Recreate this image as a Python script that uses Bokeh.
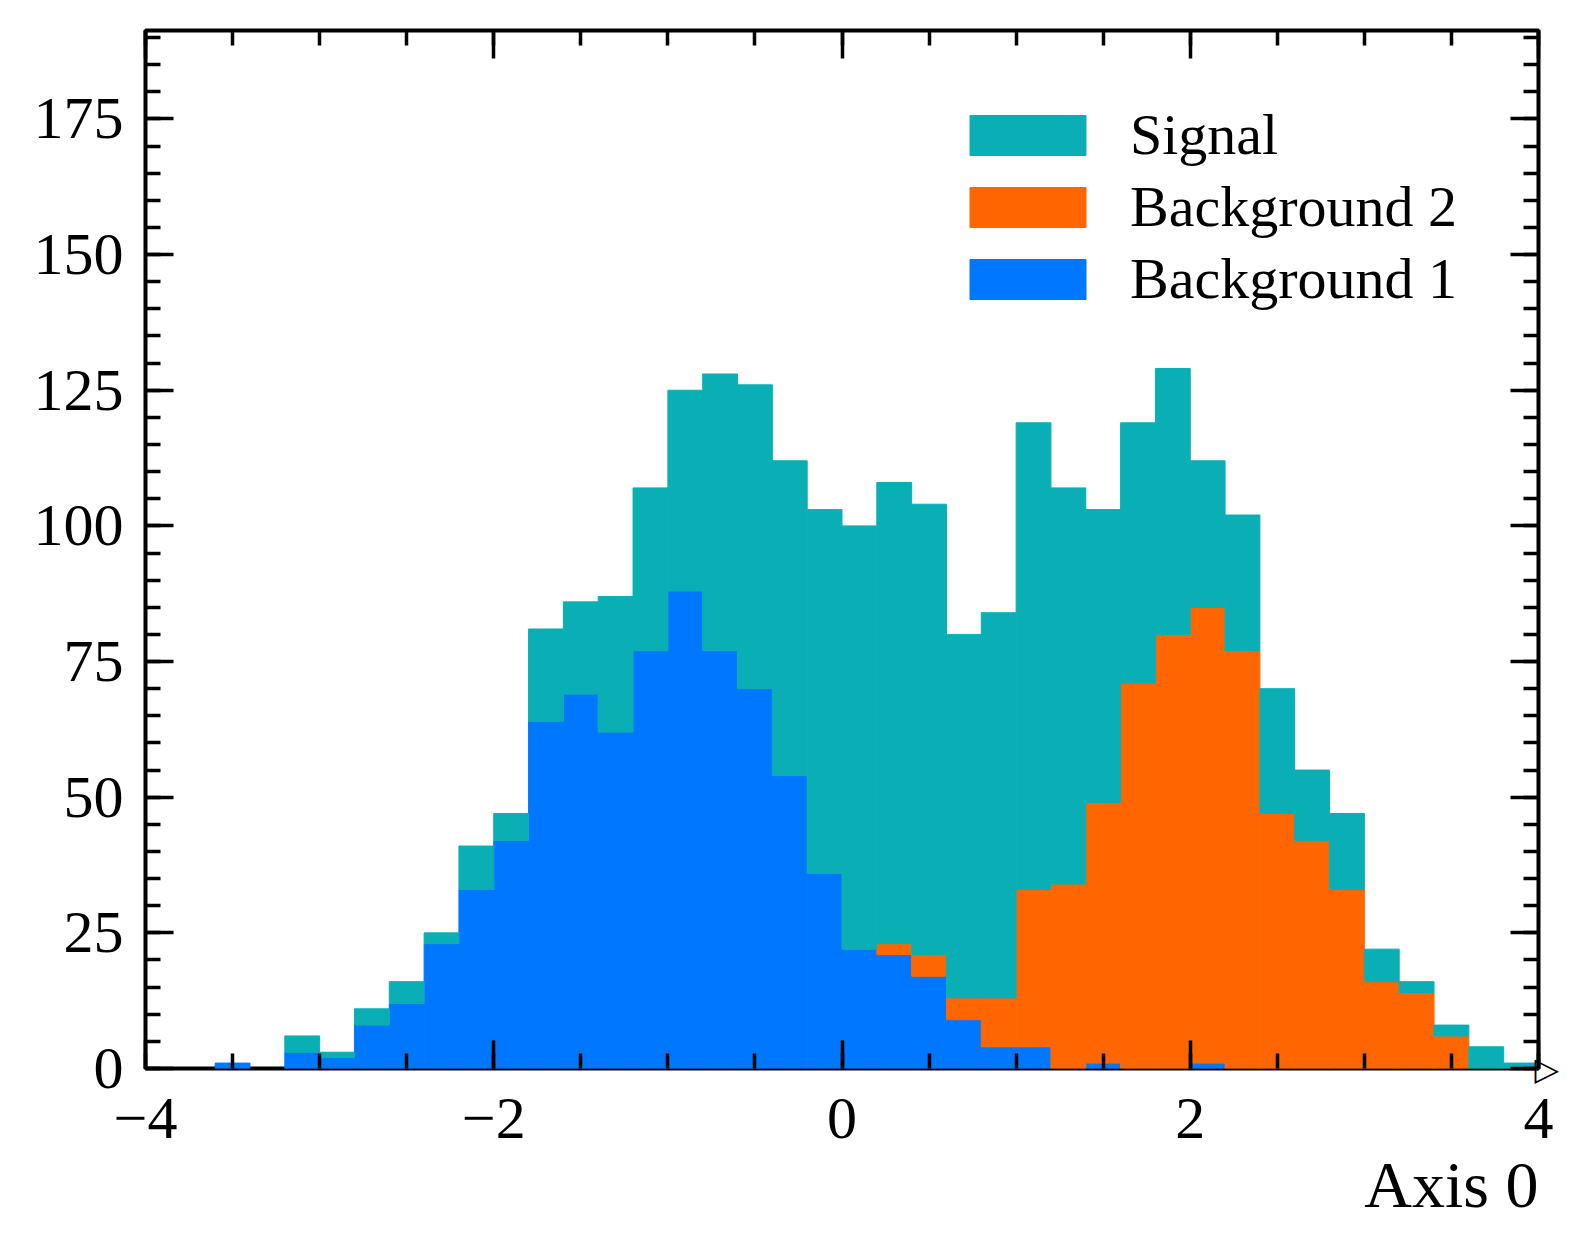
import numpy as np
from bokeh.plotting import figure
from bokeh.models import (Range1d, LinearAxis, SingleIntervalTicker, Legend, LegendItem,
                          CustomLabelingPolicy, Title)
from bokeh.embed import file_html
from bokeh.resources import INLINE

# ---------------- data ----------------
bin_low, bin_high, n_bins = -4.0, 4.0, 40
background1 = [0, 0, 1, 0, 3, 2, 8, 12, 23, 33,
               42, 64, 69, 62, 77, 88, 77, 70, 54, 36,
               22, 21, 17, 9, 4, 4, 0, 1, 0, 0,
               1, 0, 0, 0, 0, 0, 0, 0, 0, 0]
background2 = [0, 0, 0, 0, 0, 0, 0, 0, 0, 0,
               0, 0, 0, 0, 0, 0, 0, 0, 0, 0,
               0, 2, 4, 4, 9, 29, 34, 48, 71, 80,
               84, 77, 47, 42, 33, 16, 14, 6, 0, 0]
signal = [0, 0, 0, 0, 3, 1, 3, 4, 2, 8,
          5, 17, 17, 25, 30, 37, 51, 56, 58, 67,
          78, 85, 83, 67, 71, 86, 73, 54, 48, 49,
          27, 25, 23, 13, 14, 6, 2, 2, 4, 1]
series_names = ["Background 1", "Background 2", "Signal"]
series_colors = ["#0077ff", "#ff6600", "#0aafb6"]
x_tick_labels = {-4: "\u22124", -2: "\u22122", 0: "0", 2: "2", 4: "4"}
y_major_ticks = [0, 25, 50, 75, 100, 125, 150, 175]
x_label = "Axis 0"
y_top = 191.3

FONT = "Liberation Serif"

edges = np.linspace(bin_low, bin_high, n_bins + 1)

p = figure(width=1568, height=1241, output_backend="svg", toolbar_location=None,
           x_range=Range1d(bin_low, bin_high), y_range=Range1d(0, y_top),
           min_border_left=145, min_border_right=30, min_border_top=30,
           min_border_bottom=173)
p.grid.visible = False
p.outline_line_color = "black"
p.outline_line_width = 4
p.background_fill_color = "white"
p.border_fill_color = "white"

# ---------------- stacked histogram ----------------
stack = [np.array(background1, float), np.array(background2, float), np.array(signal, float)]
base = np.zeros(n_bins)
renderers = {}
for vals, name, col in zip(stack, series_names, series_colors):
    top = base + vals
    m = vals > 0
    r = p.quad(left=edges[:-1][m], right=edges[1:][m], bottom=base[m], top=top[m],
               fill_color=col, line_color=col, line_width=1)
    renderers[name] = r
    base = top

# ---------------- axes ----------------
xb = p.below[0]
yl = p.left[0]
xb.ticker = SingleIntervalTicker(interval=2, num_minor_ticks=4)
yl.ticker = SingleIntervalTicker(interval=25, num_minor_ticks=5)
xb.major_label_overrides = x_tick_labels

top_ax = LinearAxis(ticker=SingleIntervalTicker(interval=2, num_minor_ticks=4))
right_ax = LinearAxis(ticker=SingleIntervalTicker(interval=25, num_minor_ticks=5))
p.add_layout(top_ax, "above")
p.add_layout(right_ax, "right")

for ax in [xb, yl, top_ax, right_ax]:
    ax.axis_line_color = None
    ax.major_tick_in = 28
    ax.major_tick_out = 0
    ax.minor_tick_in = 15
    ax.minor_tick_out = 0
    ax.major_tick_line_width = 3.5
    ax.minor_tick_line_width = 3.5
    ax.major_tick_line_color = "black"
    ax.minor_tick_line_color = "black"
    ax.major_label_text_font = FONT
    ax.major_label_text_color = "black"
    ax.major_label_text_font_size = "60px"

# no labels on the top axis
top_ax.major_label_policy = CustomLabelingPolicy(code="""
for (const i of indices) { indices.unset(i) }
return indices
""")
top_ax.major_label_text_font_size = "0px"
top_ax.major_label_standoff = 0

# right axis: only an open arrow head drawn at y = 0 (end of the x axis)
right_ax.major_label_overrides = {v: "\u25B7" for v in y_major_ticks}
right_ax.major_label_policy = CustomLabelingPolicy(code="""
for (const i of indices) { if (i != 0) indices.unset(i) }
return indices
""")
right_ax.major_label_text_font = "DejaVu Sans"
right_ax.major_label_text_font_style = "bold"
right_ax.major_label_text_font_size = "32px"
right_ax.major_label_standoff = -4

xb.major_label_standoff = 30
yl.major_label_standoff = 22

# x-axis title at the right end (as a right-aligned title below the axis)
xtitle = Title(text=x_label, align="right", text_font=FONT, text_font_size="66px",
               text_font_style="normal", text_color="black", standoff=10)
p.add_layout(xtitle, "below")

# ---------------- legend ----------------
items = [LegendItem(label=n, renderers=[renderers[n]]) for n in reversed(series_names)]
legend = Legend(items=items, location=(810, 756))
legend.glyph_width = 145
legend.glyph_height = 50
legend.label_text_font = FONT
legend.label_text_font_size = "58px"
legend.label_text_color = "black"
legend.label_standoff = 30
legend.spacing = 5
legend.padding = 0
legend.margin = 0
legend.border_line_color = None
legend.background_fill_alpha = 0
p.add_layout(legend)

open("out.html", "w").write(file_html(p, INLINE))
